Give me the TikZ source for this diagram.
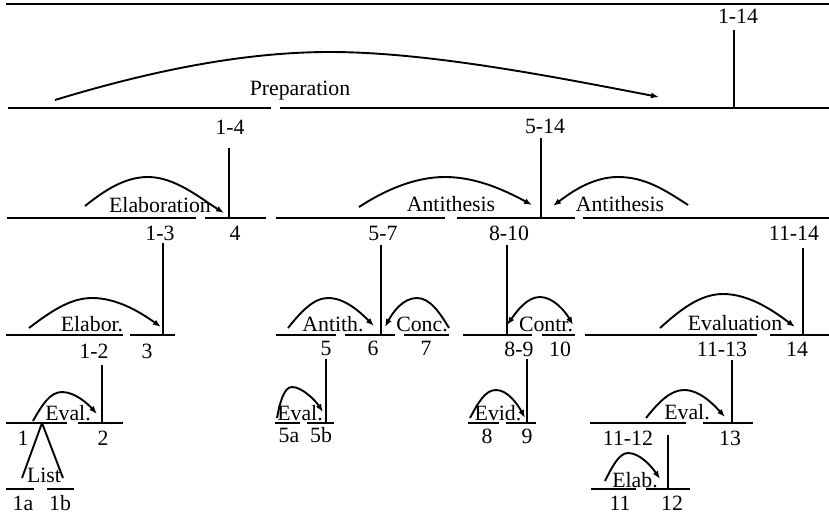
\documentclass[tikz,border=0pt]{standalone}
\usepackage{fontspec}
\setmainfont{Liberation Serif}
\usetikzlibrary{arrows.meta}
\begin{document}
\begin{tikzpicture}[x=1pt,y=-1pt,
  seg/.style={line width=1.9pt},
  rel/.style={line width=1.9pt,-{Latex[length=8pt,width=6pt]}},
  mrel/.style={line width=1.9pt,{Latex[length=8pt,width=6pt]}-{Latex[length=8pt,width=6pt]}},
  lab/.style={anchor=base,inner sep=0pt,font=\fontsize{21.8}{24}\selectfont}]
\useasboundingbox (0,0) rectangle (829,516);

% ---- horizontal span lines ----
\draw[seg] (6,4) -- (829,4);
\draw[seg] (8,108) -- (271,108);
\draw[seg] (280,108) -- (829,108);
\draw[seg] (7,218) -- (196,218);
\draw[seg] (205,218) -- (266,218);
\draw[seg] (276,218) -- (445,218);
\draw[seg] (457,218) -- (575,218);
\draw[seg] (583,218) -- (829,218);
\draw[seg] (6,335) -- (123,335);
\draw[seg] (130,335) -- (175,335);
\draw[seg] (276,335) -- (336,335);
\draw[seg] (345,335) -- (395,335);
\draw[seg] (404,335) -- (449,335);
\draw[seg] (463,335) -- (532,335);
\draw[seg] (542,335) -- (575,335);
\draw[seg] (585,335) -- (757,335);
\draw[seg] (770,335) -- (829,335);
\draw[seg] (6,423) -- (67,423);
\draw[seg] (78,423) -- (123,423);
\draw[seg] (275,423) -- (300,423);
\draw[seg] (307,423) -- (334,423);
\draw[seg] (468,423) -- (499,423);
\draw[seg] (506,423) -- (536,423);
\draw[seg] (590,423) -- (686,423);
\draw[seg] (703,423) -- (753,423);
\draw[seg] (6,489) -- (34,489);
\draw[seg] (47,489) -- (74,489);
\draw[seg] (591,489) -- (636,489);
\draw[seg] (646,489) -- (690,489);

% ---- span labels ----
\node[lab] (s114) at (738,24) {1-14};
\node[lab] (s14) at (230,134) {1-4};
\node[lab] (s514) at (545,133) {5-14};
\node[lab] (s13) at (160,240) {1-3};
\node[lab] (u4) at (235,240) {4};
\node[lab] (s57) at (383,240) {5-7};
\node[lab] (s810) at (509,240) {8-10};
\node[lab] (s1114) at (794,240) {11-14};
\node[lab] (s12) at (94,358) {1-2};
\node[lab] (u3) at (147,358) {3};
\node[lab] (u5) at (326,355) {5};
\node[lab] (u6) at (373,355) {6};
\node[lab] (u7) at (426,355) {7};
\node[lab] (s89) at (519,356) {8-9};
\node[lab] (u10) at (560,356) {10};
\node[lab] (s1113) at (722,356) {11-13};
\node[lab] (u14) at (797,356) {14};
\node[lab] (u1) at (23,445) {1};
\node[lab] (u2) at (103,445) {2};
\node[lab] (u5a) at (289,442) {5a};
\node[lab] (u5b) at (321,442) {5b};
\node[lab] (u8) at (487,443) {8};
\node[lab] (u9) at (527,443) {9};
\node[lab] (s1112) at (628,445) {11-12};
\node[lab] (u13) at (730,445) {13};
\node[lab] (u1a) at (23,510) {1a};
\node[lab] (u1b) at (60,510) {1b};
\node[lab] (u11) at (620,510) {11};
\node[lab] (u12) at (672,510) {12};

% ---- relation labels ----
\node[lab] (rprep) at (300,96) {Preparation};
\node[lab] (relab) at (160,212) {Elaboration};
\node[lab] (ranta) at (451,211) {Antithesis};
\node[lab] (rantb) at (620,211) {Antithesis};
\node[lab] (relabor) at (92,331) {Elabor.};
\node[lab] (rantith) at (333,331) {Antith.};
\node[lab] (rconc) at (422,331) {Conc.};
\node[lab] (rcontr) at (546,331) {Contr.};
\node[lab] (reval) at (735,330) {Evaluation};
\node[lab] (reva) at (68,420) {Eval.};
\node[lab] (revb) at (300,420) {Eval.};
\node[lab] (revid) at (498,420) {Evid.};
\node[lab] (revc) at (687,419) {Eval.};
\node[lab] (rlist) at (44,482) {List};
\node[lab] (relb) at (635,487) {Elab.};

% ---- vertical nucleus connectors ----
\coordinate (a1) at (734,30);  \coordinate (b1) at (734,108);
\coordinate (a2) at (229,148); \coordinate (b2) at (229,218);
\coordinate (a3) at (541,138); \coordinate (b3) at (541,218);
\coordinate (a4) at (163,243); \coordinate (b4) at (163,335);
\coordinate (a5) at (381,245); \coordinate (b5) at (381,335);
\coordinate (a6) at (507,245); \coordinate (b6) at (507,335);
\coordinate (a7) at (803,248); \coordinate (b7) at (803,335);
\coordinate (a8) at (102,365); \coordinate (b8) at (102,423);
\coordinate (a9) at (326,359); \coordinate (b9) at (326,423);
\coordinate (a10) at (527,359); \coordinate (b10) at (527,423);
\coordinate (a11) at (732,360); \coordinate (b11) at (732,423);
\coordinate (a12) at (668,435); \coordinate (b12) at (668,489);
\foreach \i in {1,...,12} {\draw[seg] (a\i) -- (b\i);}

% ---- list (multinuclear) ----
\coordinate (lt) at (42,423);
\coordinate (la) at (22,478);
\coordinate (lb) at (63,478);
\draw[seg] (lt) -- (la);
\draw[seg] (lt) -- (lb);

% ---- relation arcs ----
\draw[rel] (55,100) .. controls (160,68) and (250,52) .. (330,52) .. controls (430,52) and (560,78) .. (659,97);
\draw[rel] (85,206) .. controls (105,190) and (125,177) .. (148,177) .. controls (175,177) and (200,198) .. (224,213);
\draw[rel] (359,207) .. controls (385,190) and (415,177) .. (445,177) .. controls (478,177) and (508,192) .. (532,205);
\draw[rel] (688,205) .. controls (665,190) and (645,177) .. (618,177) .. controls (592,177) and (570,193) .. (553,206);
\draw[rel] (29,328) .. controls (50,312) and (70,298) .. (92,298) .. controls (117,298) and (140,312) .. (161,327);
\draw[rel] (288,328) .. controls (300,313) and (313,298) .. (328,298) .. controls (345,298) and (360,312) .. (374,326);
\draw[rel] (449,328) .. controls (440,313) and (430,298) .. (417,298) .. controls (403,298) and (393,312) .. (385,327);
\draw[mrel] (507,325) .. controls (517,311) and (527,297) .. (540,297) .. controls (553,297) and (565,311) .. (573,325);
\draw[rel] (660,328) .. controls (680,310) and (700,294) .. (723,294) .. controls (750,294) and (775,312) .. (795,327);
\draw[rel] (33,421) .. controls (42,405) and (50,392) .. (62,392) .. controls (75,392) and (88,404) .. (97,414);
\draw[rel] (277,418) .. controls (280,402) and (284,387) .. (292,387) .. controls (302,387) and (315,400) .. (323,412);
\draw[rel] (470,418) .. controls (478,403) and (485,390) .. (496,390) .. controls (508,390) and (518,405) .. (525,418);
\draw[rel] (646,418) .. controls (658,403) and (670,390) .. (684,390) .. controls (700,390) and (714,405) .. (725,417);
\draw[rel] (605,481) .. controls (612,467) and (619,453) .. (628,453) .. controls (640,453) and (652,467) .. (660,479);
\end{tikzpicture}
\end{document}
